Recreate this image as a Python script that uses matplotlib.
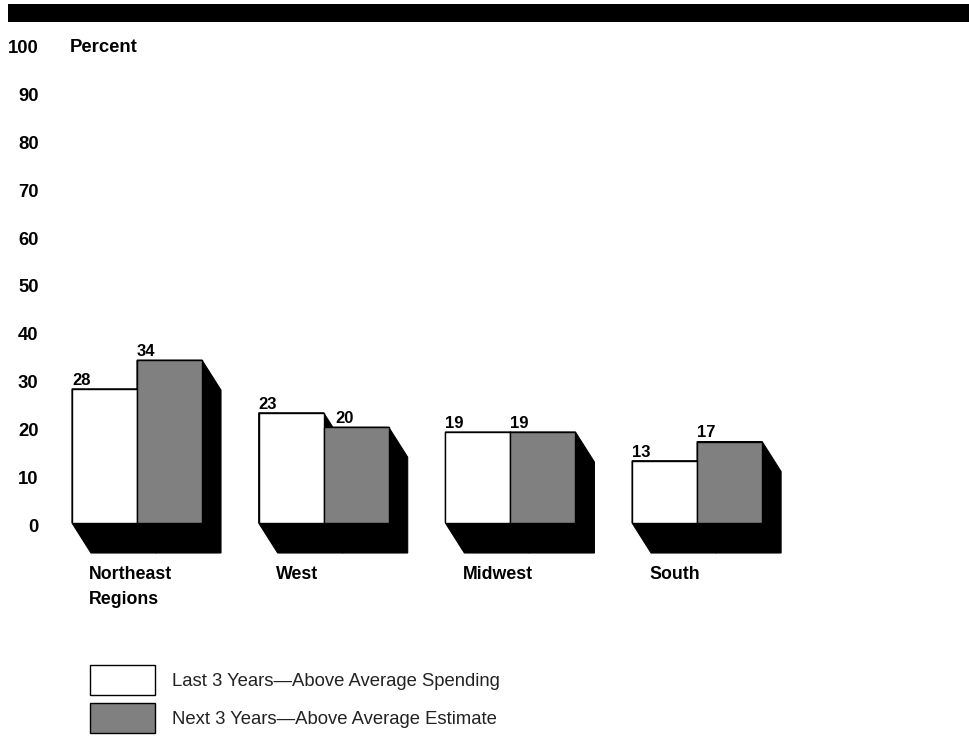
import matplotlib.pyplot as plt
import numpy as np
from matplotlib.patches import Rectangle, Polygon
from matplotlib.transforms import ScaledTranslation

plt.rcParams['font.family'] = ['Liberation Sans', 'DejaVu Sans']

regions = ["Northeast\nRegions", "West", "Midwest", "South"]
last_3_years = [28, 23, 19, 13]
next_3_years = [34, 20, 19, 17]
series_names = ["Last 3 Years\u2014Above Average Spending",
                "Next 3 Years\u2014Above Average Estimate"]
y_ticks = list(range(0, 101, 10))

W, H = 969, 738
fig = plt.figure(figsize=(W / 100, H / 100), dpi=100)

# black band across the top
fig.patches.append(Rectangle((8 / W, 1 - 22 / H), 1 - 8 / W, 18 / H,
                             transform=fig.transFigure, facecolor='black',
                             edgecolor='none'))

# axes: value 0 sits at y=523 px, 100 at y=44 px; group spacing 186.7 px
ax_left, ax_right = 40, 969
y0_px, y100_px = 523, 44
px_per_group = 186.7
center0_px = 137
ax = fig.add_axes([ax_left / W, 1 - y0_px / H, (ax_right - ax_left) / W,
                   (y0_px - y100_px) / H])
ax.set_xlim((ax_left - center0_px) / px_per_group,
            (ax_right - center0_px) / px_per_group)
ax.set_ylim(0, 100)
for s in ax.spines.values():
    s.set_visible(False)
ax.set_xticks([])
ax.set_yticks(y_ticks)
ax.set_yticklabels([str(t) for t in y_ticks], fontsize=13.3, fontweight='bold')
ax.tick_params(axis='y', length=0, pad=1)
for lab in ax.get_yticklabels():
    lab.set_transform(lab.get_transform() + ScaledTranslation(0, -2.5 / 100, fig.dpi_scale_trans))

bar_w = 65 / px_per_group
depth_x = 19 / px_per_group
depth_y = 30 / ((y0_px - y100_px) / 100)
colors = ['white', '#808080']

x = np.arange(len(regions))
for i in range(len(regions)):
    vals = [last_3_years[i], next_3_years[i]]
    lefts = [x[i] - bar_w, x[i]]
    # extruded black depth behind each bar
    for lft, v in zip(lefts, vals):
        rgt = lft + bar_w
        ax.add_patch(Polygon([(lft, 0), (lft + depth_x, -depth_y),
                              (rgt + depth_x, -depth_y), (rgt + depth_x, v - depth_y),
                              (rgt, v), (lft, v)], closed=True,
                             facecolor='black', edgecolor='black', lw=0.8,
                             clip_on=False, zorder=1))
    for j, (lft, v) in enumerate(zip(lefts, vals)):
        ax.add_patch(Rectangle((lft, 0), bar_w, v, facecolor=colors[j],
                               edgecolor='black', lw=1.0, zorder=2))
        shift = 0
        if j == 1 and vals[0] > vals[1]:
            shift = 12 / px_per_group
        ax.text(lft + shift, v + 0.25, str(v), ha='left', va='bottom',
                fontsize=12, fontweight='bold', zorder=3)
    ax.text(x[i] - bar_w + 17 / px_per_group, -depth_y - 2.8, regions[i],
            ha='left', va='top', fontsize=12.8, fontweight='bold',
            linespacing=1.6, clip_on=False)

fig.text(70 / W, 1 - 47 / H, "Percent", ha='left', va='center',
         fontsize=13.3, fontweight='bold')

# legend
for k, name in enumerate(series_names):
    top = 665 + k * 38
    fig.patches.append(Rectangle((90 / W, 1 - (top + 30) / H), 65 / W, 30 / H,
                                 transform=fig.transFigure, facecolor=colors[k],
                                 edgecolor='black', lw=1.0))
    fig.text(172 / W, 1 - (top + 17) / H, name, ha='left', va='center',
             fontsize=13.3, color='#222222')

fig.savefig('out.png', dpi=100)
